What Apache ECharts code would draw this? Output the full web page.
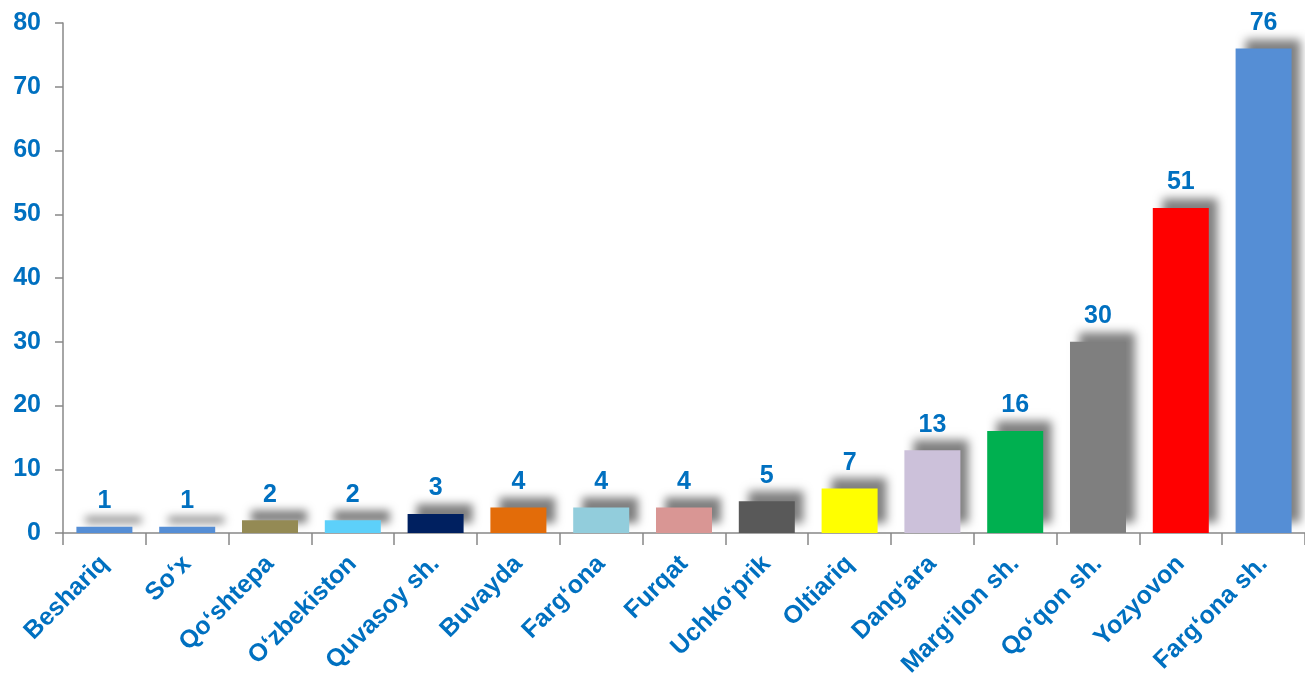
<!DOCTYPE html>
<html><head><meta charset="utf-8">
<script src="https://cdn.jsdelivr.net/npm/echarts@6/dist/echarts.min.js"></script>
<style>html,body{margin:0;padding:0;background:#fff}#c{width:1305px;height:681px}</style>
</head><body><div id="c"></div>
<script>
const categories = ["Beshariq","Soʻx","Qoʻshtepa","Oʻzbekiston","Quvasoy sh.","Buvayda","Fargʻona","Furqat","Uchkoʻprik","Oltiariq","Dangʻara","Margʻilon sh.","Qoʻqon sh.","Yozyovon","Fargʻona sh."];
const values = [1,1,2,2,3,4,4,4,5,7,13,16,30,51,76];
const colors = ["#558ED5","#558ED5","#948A54","#5DD0FA","#002060","#E36C09","#92CDDC","#D99694","#595959","#FFFF00","#CCC1DA","#00B050","#7F7F7F","#FF0000","#558ED5"];
const yTicks = {min:0,max:80,interval:10};
const blue = "#0070C0";
const font = "'Liberation Sans', Arial, sans-serif";
const chart = echarts.init(document.getElementById('c'));
chart.setOption({
  animation:false,
  grid:{left:63,right:-5,top:23,bottom:148,containLabel:false},
  xAxis:{type:'category',data:categories,
    axisLine:{lineStyle:{color:'#888',width:1.5}},
    axisTick:{show:true,length:12,alignWithLabel:false,lineStyle:{color:'#888',width:1.5}},
    axisLabel:{rotate:45,interval:0,margin:27,color:blue,fontWeight:'bold',fontSize:25,fontFamily:font}},
  yAxis:{type:'value',min:yTicks.min,max:yTicks.max,interval:yTicks.interval,
    splitLine:{show:false},
    axisLine:{show:true,lineStyle:{color:'#888',width:1.5}},
    axisTick:{show:true,inside:false,length:8,lineStyle:{color:'#888',width:1.5}},
    axisLabel:{margin:22,color:blue,fontWeight:'bold',fontSize:25,fontFamily:font}},
  series:[{type:'bar',barWidth:56,
    data:values.map((v,i)=>({value:v,itemStyle:{color:colors[i]}})),
    itemStyle:{shadowColor:'rgba(0,0,0,0.5)',shadowBlur:9,shadowOffsetX:9,shadowOffsetY:-10},
    label:{show:true,position:'top',distance:13,color:blue,fontWeight:'bold',fontSize:25,fontFamily:font}}]
});
</script></body></html>
